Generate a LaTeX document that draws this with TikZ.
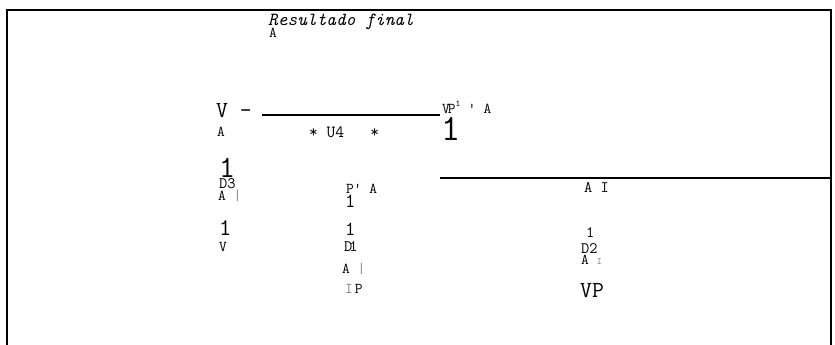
\documentclass[tikz,border=0pt]{standalone}
\begin{document}
\begin{tikzpicture}[x=1pt,y=-1pt,
  lbl/.style={inner sep=0pt,anchor=base west,text=black},
  fs/.style={font=\ttfamily\fontsize{#1}{#1}\selectfont},
  rule/.style={line width=2.2pt,black},
  frame/.style={line width=2pt,black}]
\useasboundingbox (0,0) rectangle (835,345);
% frame (open at the bottom)
\coordinate (fbl) at (7,345);
\coordinate (ftl) at (7,10);
\coordinate (ftr) at (831,10);
\coordinate (fbr) at (831,345);
\draw[frame] (fbl) -- (ftl) -- (ftr) -- (fbr);
% title
\node[lbl,font=\ttfamily\itshape\fontsize{18.5}{18.5}\selectfont] (title) at (268,26) {Resultado final};
\node[lbl,fs=15] (ta) at (269,38) {A};
% top-left group
\node[lbl,fs=23] (v) at (216,117) {V -};
\coordinate (l1s) at (262,115);
\coordinate (l1e) at (440,115);
\draw[rule] (l1s) -- (l1e);
\node[lbl,fs=17] (u4) at (309,137) {* U4~~~*};
\node[lbl,fs=15] (vp1) at (442,113) {\fontsize{15}{15}\selectfont V\kern-2ptP\raisebox{6pt}{\fontsize{9}{9}\selectfont 1}\fontsize{15}{15}\selectfont\ ' A};
\node[lbl,fs=37] (one1) at (441,140) {1};
\node[lbl,fs=15] (a1) at (217,136) {A};
\node[lbl,fs=31] (one2) at (219,177) {1};
\node[lbl,fs=16] (d3) at (219,188) {D3};
\node[lbl,fs=15] (a3) at (218,200) {A \textcolor{gray}{|}};
\node[lbl,fs=24] (one3) at (219,235) {1};
\node[lbl,fs=15] (v2) at (219,251) {V};
% middle group
\node[lbl,fs=15] (pa) at (346,193) {P' A};
\node[lbl,fs=20] (one4) at (345,207) {1};
\node[lbl,fs=20] (one5) at (345,235) {1};
\node[lbl,fs=16] (d1) at (344,251) {D\kern-3pt 1};
\node[lbl,fs=15] (a4) at (342,273) {A \textcolor{gray}{|}};
\node[lbl,fs=15] (ip) at (345,293) {\textcolor{gray}{I}\hspace{2pt}P};
% right line and group
\coordinate (l2s) at (440,178);
\coordinate (l2e) at (831,178);
\draw[rule] (l2s) -- (l2e);
\node[lbl,fs=16] (ai1) at (584,192) {A I};
\node[lbl,fs=16] (one6) at (586,237) {1};
\node[lbl,fs=16] (d2) at (581,253) {D2};
\node[lbl,fs=15] (ai2) at (581,264) {A \textcolor{gray}{\fontsize{10}{10}\selectfont I}};
\node[lbl,fs=23] (vp2) at (580,297) {VP};
\end{tikzpicture}
\end{document}
